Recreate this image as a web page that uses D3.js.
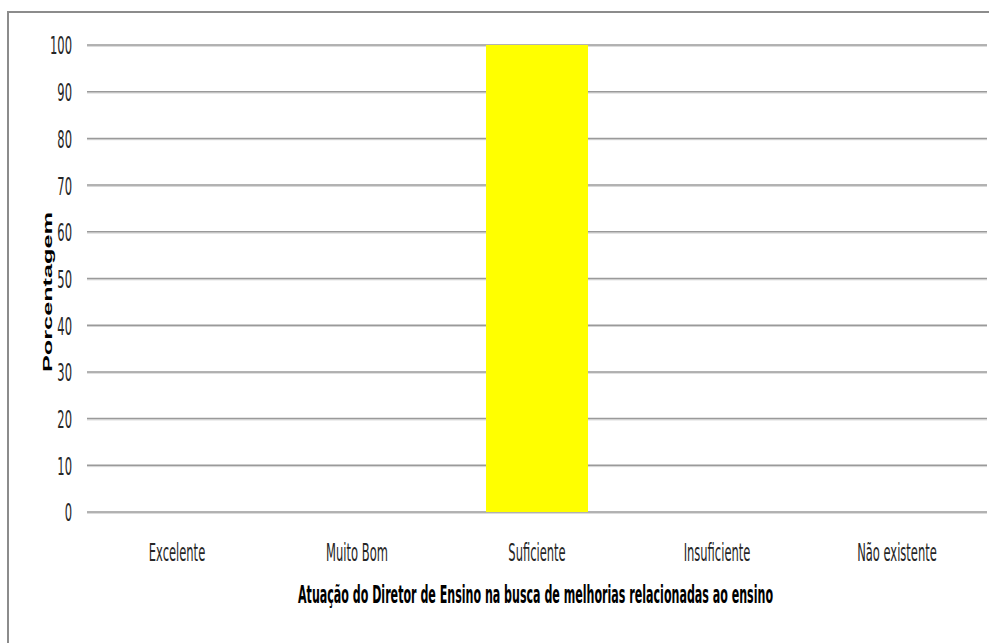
<!DOCTYPE html>
<html>
<head>
<meta charset="utf-8">
<script src="https://cdn.jsdelivr.net/npm/d3@7"></script>
<style>
  html, body { margin: 0; padding: 0; background: #fff; }
  svg { display: block; }
</style>
</head>
<body>
<svg id="chart" width="989" height="643"></svg>
<script>
// Categories and their percentages
const categories = ["Excelente", "Muito Bom", "Suficiente", "Insuficiente", "Não existente"];
const percentages = [0, 0, 100, 0, 0];
const yTicks = [0, 10, 20, 30, 40, 50, 60, 70, 80, 90, 100];
const xTitle = "Atuação do Diretor de Ensino na busca de melhorias relacionadas ao ensino";
const yTitle = "Porcentagem";

const svg = d3.select("#chart");
const W = 989, H = 643;
const plot = { left: 87, right: 987, top: 45, bottom: 512 };
const narrow = "'Liberation Sans Narrow', 'DejaVu Sans Condensed', 'Arial Narrow', sans-serif";
const sx = 0.8, sy = 1.55;

svg.append("rect").attr("width", W).attr("height", H).attr("fill", "#fff");

// Chart frame (top and left edges are visible)
svg.append("path")
  .attr("d", `M${W + 5},12 H8 V${H + 5}`)
  .attr("fill", "none")
  .attr("stroke", "#8c8c8c")
  .attr("stroke-width", 2);

const x = d3.scaleBand()
  .domain(categories)
  .range([plot.left, plot.right])
  .paddingInner(0.4333)
  .paddingOuter(0.4333 / 2);

const y = d3.scaleLinear()
  .domain([0, 100])
  .range([plot.bottom, plot.top]);

// Horizontal gridlines
const grid = svg.append("g");
grid.selectAll("line.shadow")
  .data(yTicks)
  .join("line")
  .attr("class", "shadow")
  .attr("x1", plot.left).attr("x2", plot.right)
  .attr("y1", d => y(d) + 1.3).attr("y2", d => y(d) + 1.3)
  .attr("stroke", "#d4d4d4").attr("stroke-width", 1);
grid.selectAll("line.main")
  .data(yTicks)
  .join("line")
  .attr("class", "main")
  .attr("x1", plot.left).attr("x2", plot.right)
  .attr("y1", d => y(d)).attr("y2", d => y(d))
  .attr("stroke", "#9a9a9a").attr("stroke-width", 1.5);

// Bars
svg.append("g")
  .selectAll("rect")
  .data(categories.map((c, i) => ({ c, v: percentages[i] })))
  .join("rect")
  .attr("x", d => x(d.c))
  .attr("width", x.bandwidth())
  .attr("y", d => y(d.v))
  .attr("height", d => y(0) - y(d.v))
  .attr("fill", "#ffff00");

// Y axis labels
const yAxis = svg.append("g")
  .attr("transform", `translate(${plot.left},0)`)
  .call(d3.axisLeft(y).tickValues(yTicks).tickSize(0).tickPadding(0).tickFormat(d3.format("d")));
yAxis.select(".domain").remove();
yAxis.selectAll("text")
  .attr("font-family", narrow)
  .attr("font-size", 16)
  .attr("fill", "#262626")
  .attr("x", 0)
  .attr("y", 0)
  .attr("dy", "0.36em")
  .attr("transform", `translate(-15,0) scale(${sx},${sy})`);

// X axis labels
const xAxis = svg.append("g")
  .attr("transform", `translate(0,${plot.bottom})`)
  .call(d3.axisBottom(x).tickSize(0));
xAxis.select(".domain").remove();
xAxis.selectAll("text")
  .attr("font-family", narrow)
  .attr("font-size", 16)
  .attr("fill", "#262626")
  .attr("y", 0)
  .attr("dy", "0.36em")
  .attr("transform", `translate(0,40) scale(${sx},${sy})`);

// X axis title
svg.append("text")
  .attr("transform", `translate(${(298 + 773) / 2},594) scale(1,${sy})`)
  .attr("text-anchor", "middle")
  .attr("dy", "0.36em")
  .attr("font-family", narrow)
  .attr("font-weight", "bold")
  .attr("font-size", 16)
  .attr("fill", "#000")
  .attr("textLength", 475)
  .attr("lengthAdjust", "spacingAndGlyphs")
  .text(xTitle);

// Y axis title
svg.append("text")
  .attr("transform", "translate(47,292) rotate(-90)")
  .attr("text-anchor", "middle")
  .attr("dy", "0.36em")
  .attr("font-family", "'Liberation Sans', Arial, sans-serif")
  .attr("font-weight", "bold")
  .attr("font-size", 13)
  .attr("fill", "#000")
  .attr("textLength", 160)
  .attr("lengthAdjust", "spacingAndGlyphs")
  .text(yTitle);
</script>
</body>
</html>
